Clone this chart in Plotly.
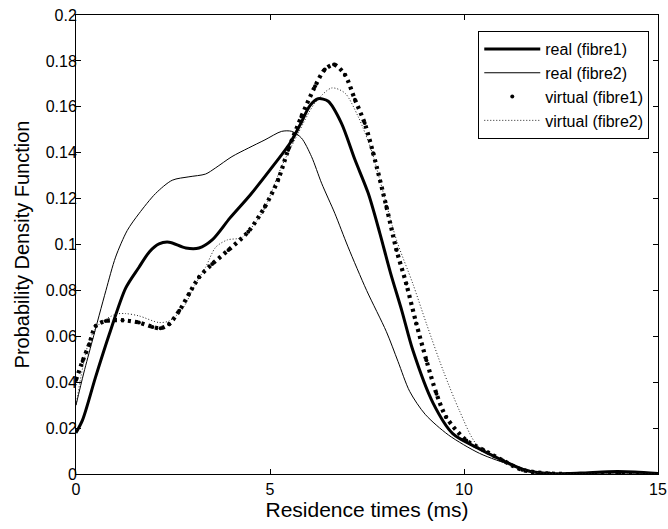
import plotly.graph_objects as go

# ---- data ----
t_real1 = [0, 0.17, 0.5, 0.86, 1.28, 1.62, 1.9, 2.14, 2.4, 2.83, 3.17, 3.51, 3.97, 4.49, 5.0,
           5.51, 5.77, 6.03, 6.24, 6.5, 6.84, 7.19, 7.53, 7.83, 8.1, 8.4, 8.68, 9.2, 9.71,
           10.31, 10.91, 11.6, 12.2, 13.0, 13.7, 14.4, 15]
v_real1 = [0.018, 0.0236, 0.042, 0.061, 0.081, 0.090, 0.097, 0.1003, 0.101, 0.0985, 0.0985, 0.102,
           0.1116, 0.1216, 0.1325, 0.144, 0.152, 0.1605, 0.1635, 0.1624, 0.1529, 0.1369,
           0.1224, 0.105, 0.088, 0.071, 0.054, 0.031, 0.0176, 0.0117, 0.0066, 0.0015, 0.0002,
           0.0004, 0.001, 0.0009, 0.0002]

t_real2 = [0, 0.2, 0.42, 0.77, 1.02, 1.32, 1.62, 2.05, 2.48, 2.91, 3.34, 3.59, 4.02, 4.44, 4.87,
           5.3, 5.56, 5.81, 6.07, 6.33, 6.67, 7.01, 7.49, 8.0, 8.3, 8.6, 9.0, 9.6, 10.4, 11.25,
           11.8, 12.4, 13.0, 14.0, 15]
v_real2 = [0.030, 0.044, 0.058, 0.0799, 0.0945, 0.1061, 0.1134, 0.1222, 0.128, 0.1295, 0.1307,
           0.1333, 0.1383, 0.142, 0.1456, 0.1493, 0.1493, 0.1464, 0.1383, 0.1267, 0.1136, 0.099,
           0.080, 0.062, 0.049, 0.036, 0.026, 0.017, 0.009, 0.0037, 0.0012, 0.0002, 0.0,
           0.0, 0.0]

t_virt1 = [0, 0.17, 0.34, 0.51, 0.77, 1.2, 1.62, 1.97, 2.18, 2.4, 2.66, 2.91, 3.17, 3.51, 3.93,
           4.44, 4.87, 5.21, 5.47, 5.81, 6.16, 6.41, 6.65, 6.93, 7.19, 7.44, 7.66, 8.0, 8.26, 8.51,
           8.77, 9.03, 9.29, 9.54, 10.06, 10.5, 11.0, 11.5, 12.2, 13.0, 14.0, 15]
v_virt1 = [0.041, 0.0492, 0.0565, 0.0645, 0.0667, 0.067, 0.066, 0.0641, 0.0635, 0.0653, 0.0711,
           0.0784, 0.0857, 0.0915, 0.0976, 0.1056, 0.1165, 0.1282, 0.1413, 0.1558, 0.1689, 0.1762,
           0.1784, 0.174, 0.1631, 0.1529, 0.1398, 0.1165, 0.0976, 0.083, 0.0656, 0.0496, 0.035,
           0.0248, 0.0146, 0.0105, 0.0059, 0.0018, 0.0002, 0.0, 0.0, 0.0]

t_virt2 = [0, 0.34, 0.6, 1.02, 1.28, 1.62, 2.14, 2.4, 2.74, 3.08, 3.34, 3.6, 3.9, 4.27, 4.6,
           4.87, 5.3, 5.73, 6.16, 6.59, 6.93, 7.27, 7.61, 7.83, 8.26, 8.68, 9.03, 9.46, 9.88,
           10.31, 10.91, 11.5, 12.2, 13.0, 14.0, 15]
v_virt2 = [0.030, 0.058, 0.0653, 0.0696, 0.0699, 0.0689, 0.066, 0.0667, 0.0718, 0.0828, 0.0901,
           0.0988, 0.102, 0.103, 0.109, 0.116, 0.134, 0.1486, 0.1617, 0.1682, 0.166, 0.1558,
           0.1413, 0.1282, 0.102, 0.083, 0.0656, 0.0452, 0.0277, 0.0132, 0.006, 0.0018, 0.0002,
           0.0, 0.0, 0.0]

x_ticks = [0, 5, 10, 15]
x_ticktext = ["0", "5", "10", "15"]
y_ticks = [0, 0.02, 0.04, 0.06, 0.08, 0.1, 0.12, 0.14, 0.16, 0.18, 0.2]
y_ticktext = ["0", "0.02", "0.04", "0.06", "0.08", "0.1", "0.12", "0.14", "0.16", "0.18", "0.2"]

FONT = "Liberation Sans, Arial, sans-serif"

fig = go.Figure()
fig.add_trace(go.Scatter(x=t_real1, y=v_real1, mode="lines", name="real (fibre1)",
                         line=dict(color="black", width=3, shape="spline", smoothing=0.8)))
fig.add_trace(go.Scatter(x=t_real2, y=v_real2, mode="lines", name="real (fibre2)",
                         line=dict(color="black", width=1, shape="spline", smoothing=0.8)))
fig.add_trace(go.Scatter(x=t_virt1, y=v_virt1, mode="lines", showlegend=False,
                         line=dict(color="black", width=4.2, dash="3px,4px",
                                   shape="spline", smoothing=0.8)))
fig.add_trace(go.Scatter(x=t_virt1, y=v_virt1, mode="markers", name="virtual (fibre1)",
                         marker=dict(color="black", size=4)))
fig.add_trace(go.Scatter(x=t_virt2, y=v_virt2, mode="lines", name="virtual (fibre2)",
                         line=dict(color="#222222", width=1, dash="1px,2px",
                                   shape="spline", smoothing=0.8)))

axis_common = dict(showgrid=False, zeroline=False, showline=True, linecolor="black",
                   linewidth=1, mirror="ticks", ticks="inside", ticklen=5, tickcolor="black",
                   automargin=False, ticklabeloverflow="allow",
                   tickfont=dict(family=FONT, size=16, color="black"))

fig.update_layout(
    width=668, height=529,
    margin=dict(l=76, r=10, t=15, b=55),
    paper_bgcolor="white", plot_bgcolor="white",
    font=dict(family=FONT, color="black"),
    xaxis=dict(range=[0, 15], tickvals=x_ticks, ticktext=x_ticktext,
               ticklabelstandoff=1,
               title=dict(text="Residence times (ms)", font=dict(family=FONT, size=21),
                          standoff=2),
               **axis_common),
    yaxis=dict(range=[0, 0.2], tickvals=y_ticks, ticktext=y_ticktext,
               ticklabelstandoff=-5,
               title=dict(text="Probability Density Function", font=dict(family=FONT, size=20),
                          standoff=10),
               **axis_common),
    legend=dict(x=0.985, xanchor="right", y=0.965, yanchor="top",
                bgcolor="white", bordercolor="black", borderwidth=1,
                font=dict(family=FONT, size=16, color="black"),
                itemwidth=56, tracegroupgap=0),
    showlegend=True,
)

# remove the browser's default 8px page margin so the figure fills the window exactly
fig.write_html("out.html", config={"displayModeBar": False},
               post_script="document.body.style.margin='0';")
